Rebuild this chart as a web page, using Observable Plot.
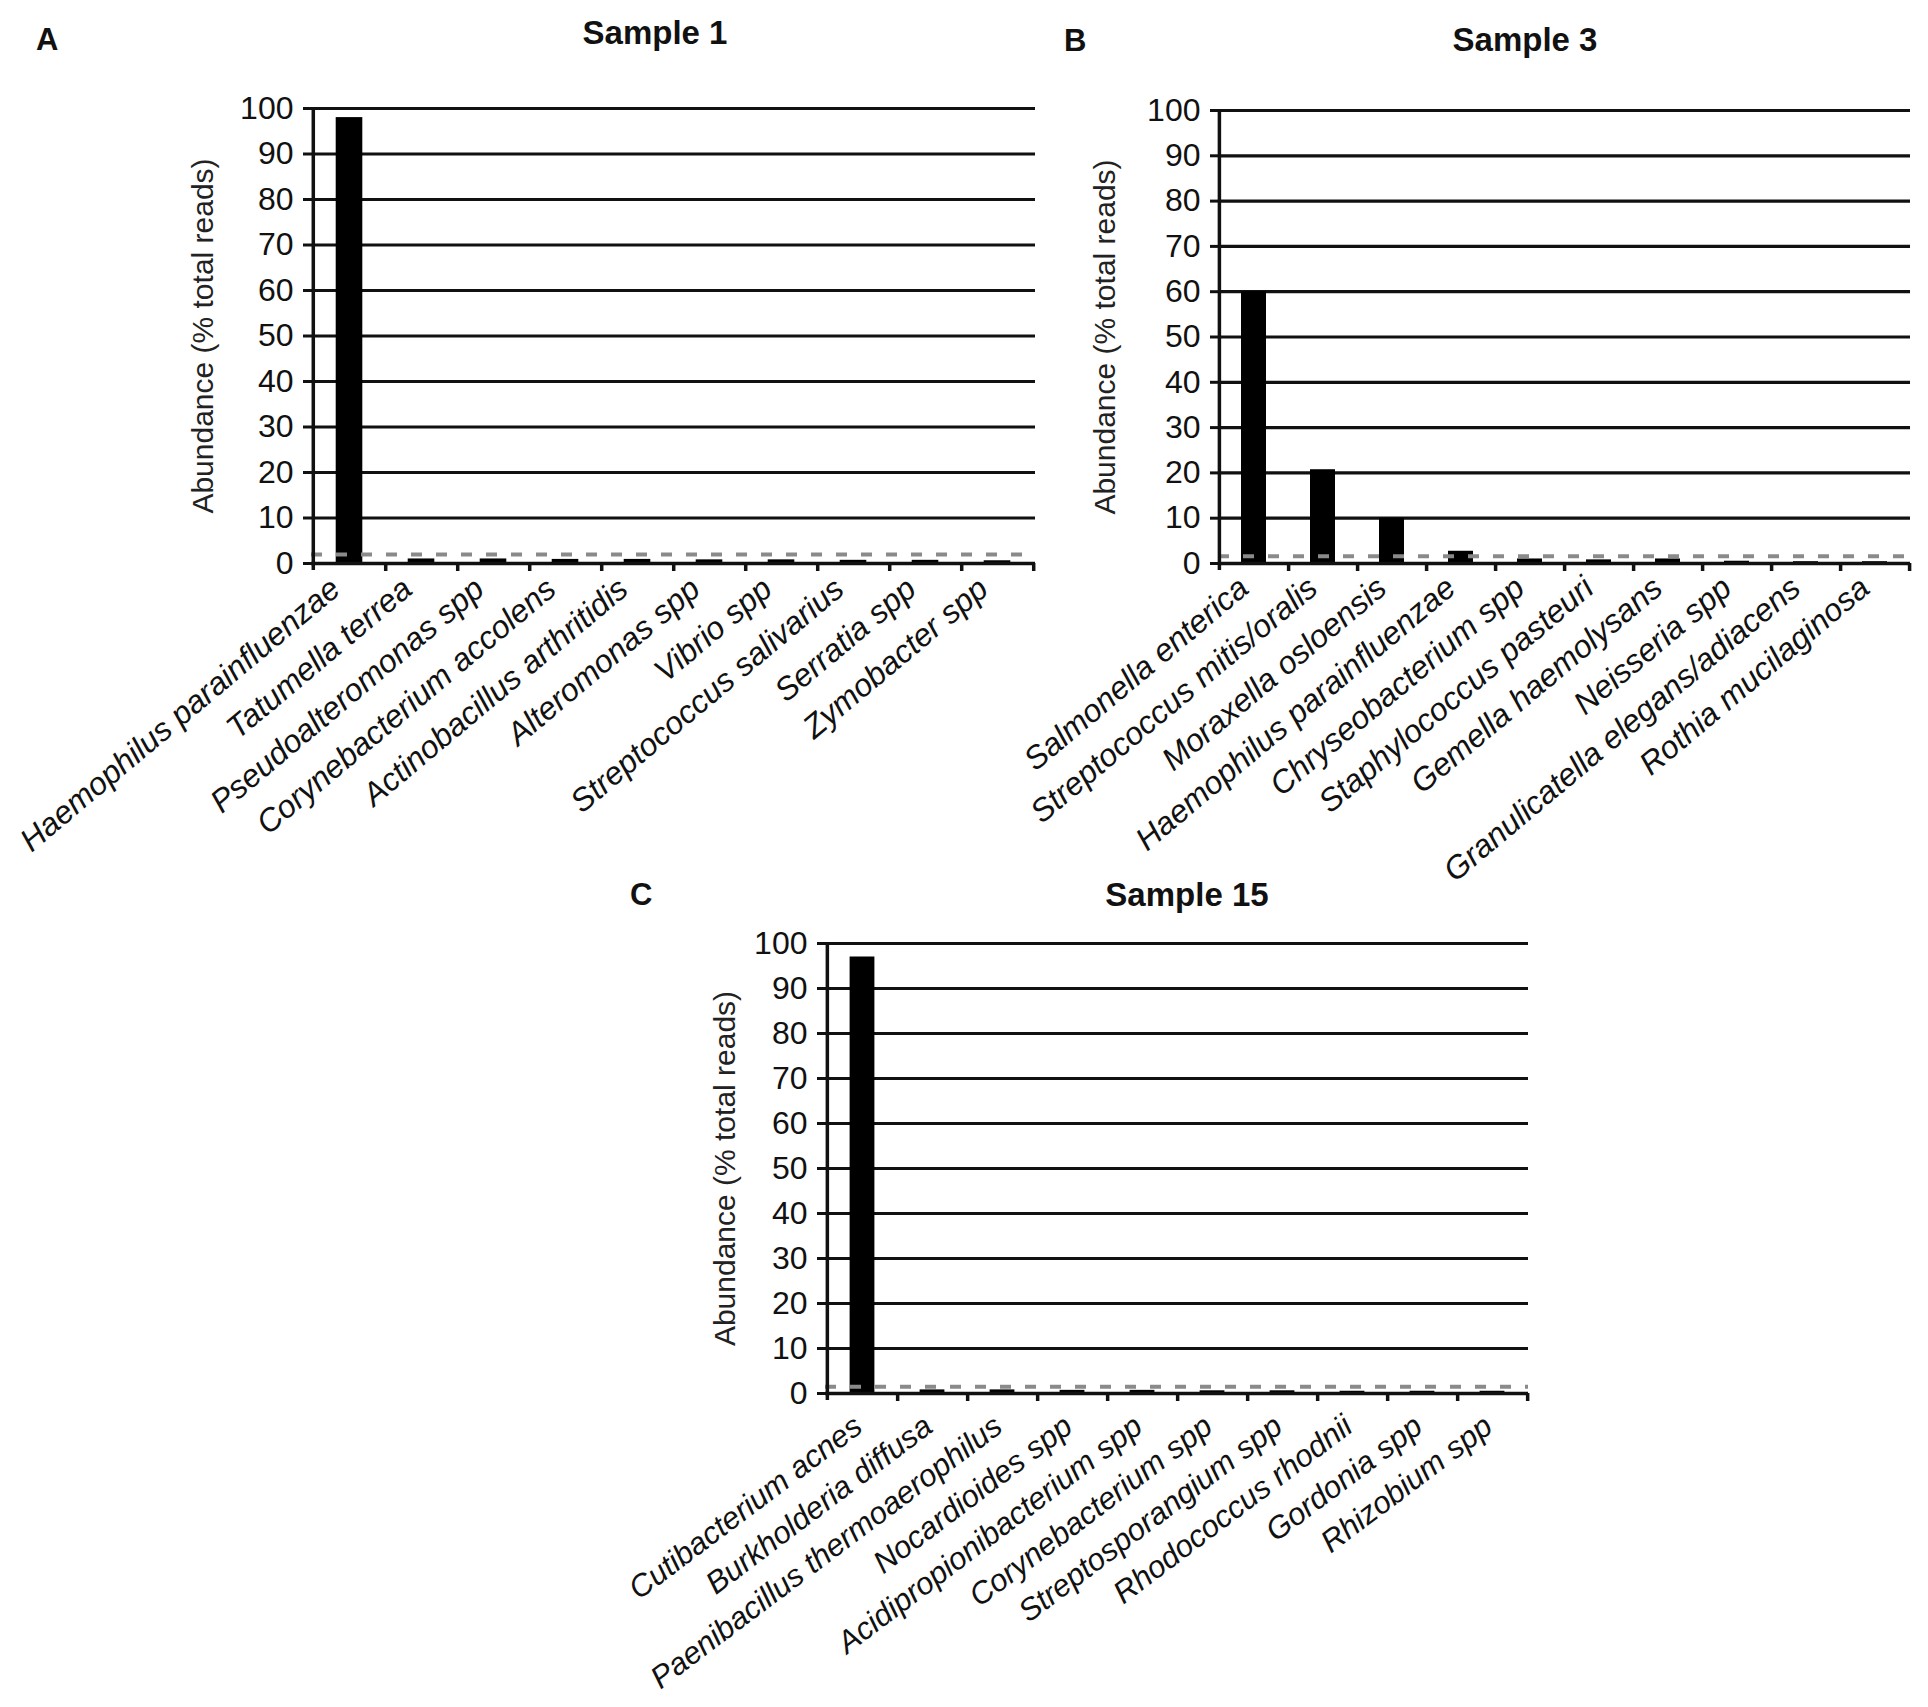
<!DOCTYPE html>
<html>
<head>
<meta charset="utf-8">
<script src="https://cdn.jsdelivr.net/npm/d3@7"></script>
<script src="https://cdn.jsdelivr.net/npm/@observablehq/plot@0.6"></script>
<style>
  body { margin: 0; background: #fff; width: 1928px; height: 1707px; position: relative; overflow: hidden;
         font-family: "Liberation Sans", Arial, sans-serif; }
  .abs { position: absolute; }
  .title { font-weight: bold; font-size: 33px; line-height: 1; text-align: center; width: 600px; color: #111; }
  .letter { font-weight: bold; font-size: 31px; line-height: 1; color: #111; }
</style>
</head>
<body>
<script>
const FONT = '"Liberation Sans", Arial, sans-serif';
const yTicks = [0, 10, 20, 30, 40, 50, 60, 70, 80, 90, 100];
const yLabel = "Abundance (% total reads)";

const titleA = "Sample 1";
const catsA = ["Haemophilus parainfluenzae", "Tatumella terrea", "Pseudoalteromonas spp", "Corynebacterium accolens",
  "Actinobacillus arthritidis", "Alteromonas spp", "Vibrio spp", "Streptococcus salivarius", "Serratia spp", "Zymobacter spp"];
const valsA = [98, 1.0, 1.0, 0.9, 0.9, 0.8, 0.8, 0.7, 0.7, 0.6];
const thrA = [2];

const titleB = "Sample 3";
const catsB = ["Salmonella enterica", "Streptococcus mitis/oralis", "Moraxella osloensis", "Haemophilus parainfluenzae",
  "Chryseobacterium spp", "Staphylococcus pasteuri", "Gemella haemolysans", "Neisseria spp",
  "Granulicatella elegans/adiacens", "Rothia mucilaginosa"];
const valsB = [60, 20.7, 10, 2.7, 1.0, 0.8, 1.0, 0.5, 0.4, 0.4];
const thrB = [1.6];

const titleC = "Sample 15";
const catsC = ["Cutibacterium acnes", "Burkholderia diffusa", "Paenibacillus thermoaerophilus", "Nocardioides spp",
  "Acidipropionibacterium spp", "Corynebacterium spp", "Streptosporangium spp", "Rhodococcus rhodnii",
  "Gordonia spp", "Rhizobium spp"];
const valsC = [97, 0.8, 0.8, 0.7, 0.7, 0.6, 0.6, 0.5, 0.5, 0.5];
const thrC = [1.5];

function panel(cats, vals, thr, g) {
  const data = cats.map((c, i) => ({name: c, value: vals[i]}));
  const bw = (g.width - g.ml - g.mr) / cats.length;
  const svg = Plot.plot({
    width: g.width, height: g.height,
    marginLeft: g.ml, marginRight: g.mr, marginTop: g.mt, marginBottom: g.mb,
    style: {background: "transparent", overflow: "visible", fontFamily: FONT, color: "#111"},
    x: {domain: cats, padding: 0, axis: null},
    y: {domain: [0, 100], axis: null},
    marks: [
      Plot.ruleY(yTicks.filter(t => t > 0), {stroke: "#111", strokeWidth: 3.2}),
      Plot.barY(data, {x: "name", y: "value", fill: "#000", insetLeft: g.inset, insetRight: g.inset}),
      Plot.ruleY(thr, {stroke: "#8a8a8a", strokeWidth: 4, strokeDasharray: "11,14"}),
      Plot.ruleY([0], {stroke: "#111", strokeWidth: 3.5}),
      Plot.ruleX([cats[0]], {dx: -bw / 2, y1: 100, y2: 0, insetBottom: -7, stroke: "#111", strokeWidth: 3.5}),
      Plot.ruleX(cats, {dx: bw / 2, y1: 0, y2: 0, insetBottom: -8, stroke: "#111", strokeWidth: 3.5}),
      Plot.axisY({ticks: yTicks, tickSize: 8, tickPadding: 10, fontSize: 32, label: null, strokeWidth: 3}),
      Plot.axisX({tickSize: 0, tickPadding: g.pad, tickRotate: g.rot, fontSize: g.fs, fontStyle: "italic", label: null, dx: g.ldx}),
      Plot.text([yLabel], {frameAnchor: "left", dx: g.labelDx, rotate: -90, fontSize: 30, textAnchor: "middle", fill: "#222"})
    ]
  });
  svg.style.position = "absolute";
  svg.style.left = g.left + "px";
  svg.style.top = g.top + "px";
  document.body.appendChild(svg);
}

function addText(txt, cls, left, top) {
  const d = document.createElement("div");
  d.className = "abs " + cls;
  d.textContent = txt;
  d.style.left = left + "px";
  d.style.top = top + "px";
  document.body.appendChild(d);
}

panel(catsA, valsA, thrA, {left: 0, top: 60, width: 1060, height: 810, ml: 311, mr: 25, mt: 48, mb: 307, inset: 22.7, labelDx: -108, pad: 21, rot: -40, fs: 32, ldx: -14});
panel(catsB, valsB, thrB, {left: 1000, top: 60, width: 928, height: 810, ml: 218, mr: 18, mt: 50, mb: 307, inset: 22, labelDx: -113, pad: 20, rot: -40, fs: 32, ldx: -10});
panel(catsC, valsC, thrC, {left: 560, top: 890, width: 1000, height: 817, ml: 265, mr: 32, mt: 53, mb: 314, inset: 22.6, labelDx: -100, pad: 29, rot: -37, fs: 31, ldx: -4});

addText(titleA, "title", 655 - 300, 16);
addText(titleB, "title", 1525 - 300, 23);
addText(titleC, "title", 1187 - 300, 878);
addText("A", "letter", 36, 24);
addText("B", "letter", 1064, 25);
addText("C", "letter", 630, 879);
</script>
</body>
</html>
